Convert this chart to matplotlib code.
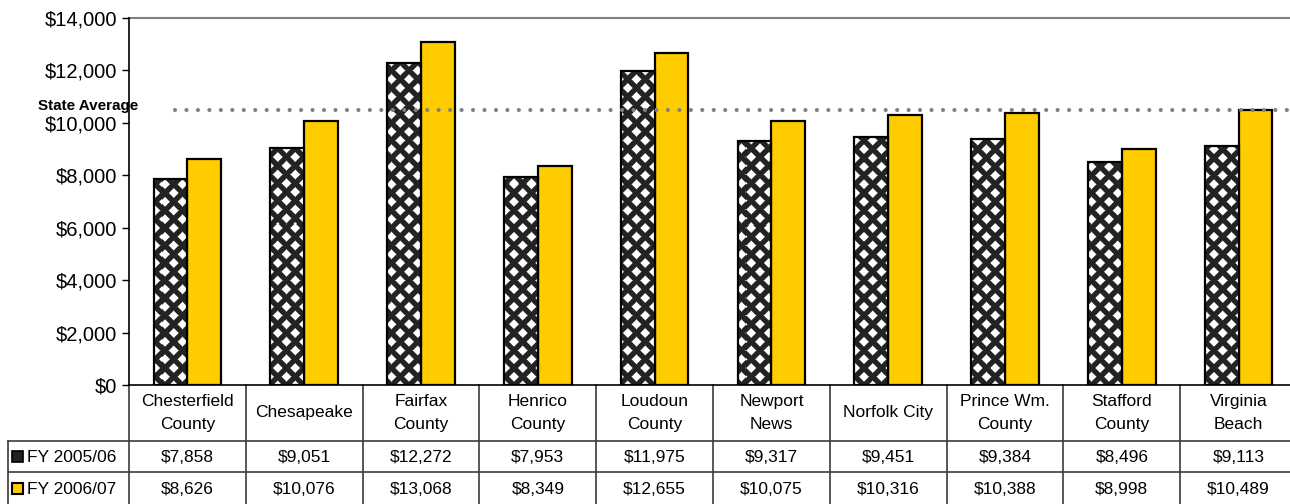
import matplotlib
matplotlib.use("Agg")
import matplotlib.pyplot as plt
import matplotlib.transforms as mtransforms
from matplotlib.patches import Rectangle
import numpy as np

plt.rcParams['font.family'] = ['Liberation Sans', 'DejaVu Sans']

# Per-pupil expenditure by division
categories = ["Chesterfield\nCounty", "Chesapeake", "Fairfax\nCounty", "Henrico\nCounty",
              "Loudoun\nCounty", "Newport\nNews", "Norfolk City", "Prince Wm.\nCounty",
              "Stafford\nCounty", "Virginia\nBeach"]
series_names = ["FY 2005/06", "FY 2006/07"]
fy2006 = [7858, 9051, 12272, 7953, 11975, 9317, 9451, 9384, 8496, 9113]
fy2007 = [8626, 10076, 13068, 8349, 12655, 10075, 10316, 10388, 8998, 10489]
state_average = 10490
yticks = [0, 2000, 4000, 6000, 8000, 10000, 12000, 14000]

W, H = 1290, 504
fig = plt.figure(figsize=(W / 100, H / 100), dpi=100)

# pixel-space overlay for the data table below the bars
ov = fig.add_axes([0, 0, 1, 1], zorder=0)
ov.set_xlim(0, W)
ov.set_ylim(H, 0)
ov.axis('off')

# plot area runs slightly past the right edge of the canvas
left, right, top, bottom = 129, 1297, 18, 385
ax = fig.add_axes([left / W, (H - bottom) / H, (right - left) / W, (bottom - top) / H], zorder=1)
ax.patch.set_alpha(0)

ax.set_xlim(-0.5, len(categories) - 0.5)
ax.set_ylim(0, 14000)

x = np.arange(len(categories))
bw = 0.29
dark_bars = ax.bar(x - bw / 2, fy2006, width=bw, facecolor='#222222', edgecolor='none', zorder=3)
ax.bar(x - bw / 2, fy2006, width=bw, fill=False, edgecolor='black', linewidth=1.6, zorder=5)
ax.bar(x + bw / 2, fy2007, width=bw, facecolor='#FFCC00', edgecolor='black',
       linewidth=1.6, zorder=3)

# diamond-checker fill texture for the first series
pw, ph = right - left, bottom - top
py, px = np.mgrid[0:ph, 0:pw].astype(float) + 0.5
period = 17.5
u = np.mod((px + py) / period, 1.0) - 0.5
v = np.mod((px - py) / period, 1.0) - 0.5
s = np.maximum(np.abs(u), np.abs(v))
white = np.clip((0.28 - s) * period * 0.7 + 0.5, 0, 1)
tone = 0.14 + (1.0 - 0.14) * white
texture = np.dstack([tone, tone, tone])
for bar in dark_bars:
    im = ax.imshow(texture, extent=(-0.5, len(categories) - 0.5, 0, 14000),
                   aspect='auto', interpolation='nearest', zorder=4)
    im.set_clip_path(bar)
ax.set_xlim(-0.5, len(categories) - 0.5)
ax.set_ylim(0, 14000)

ax.set_yticks(yticks)
ax.set_yticklabels([f"${v:,}" for v in yticks], fontsize=14.5)
ax.set_xticks([])
ax.tick_params(axis='y', length=5, width=1, pad=3.5, direction='out')
ax.axhline(14000, color='#808080', lw=1.5, zorder=1, clip_on=False)
for sp in ['top', 'right']:
    ax.spines[sp].set_visible(False)
ax.spines['left'].set_linewidth(1.2)
ax.spines['bottom'].set_linewidth(1.2)

# state average reference line
ax.axhline(state_average, xmin=0.039, xmax=1.0, color='#808080', lw=3.0,
           linestyle=(0, (0.001, 2.75)), dash_capstyle='round', zorder=6)
fig.text(38 / W, (H - 110) / H, "State Average", fontsize=11, fontweight='bold',
         ha='left', va='baseline', zorder=7)

# table grid and text
tr = mtransforms.blended_transform_factory(ax.transData, ov.transData)
line_c = '#3a3a3a'
ov.plot([8, W], [441, 441], color=line_c, lw=1.2)
ov.plot([8, W], [472, 472], color=line_c, lw=1.2)
ov.plot([8, 8], [441, H], color=line_c, lw=1.2)
for k in range(len(categories) + 1):
    ov.plot([k - 0.5, k - 0.5], [bottom, H], color=line_c, lw=1.2, transform=tr)

for i, cat in enumerate(categories):
    ov.text(i, 413, cat, ha='center', va='center', fontsize=12.5, linespacing=1.65, transform=tr)
    ov.text(i, 457, f"${fy2006[i]:,}", ha='center', va='center', fontsize=12.5, transform=tr)
    ov.text(i, 489, f"${fy2007[i]:,}", ha='center', va='center', fontsize=12.5, transform=tr)

# legend keys in the row headers
ov.add_patch(Rectangle((12, 451), 11, 11, facecolor='#222222', edgecolor='black', lw=1.2))
ov.add_patch(Rectangle((12, 483), 11, 11, facecolor='#FFCC00', edgecolor='black', lw=1.5))
ov.text(27, 457, series_names[0], ha='left', va='center', fontsize=12.5)
ov.text(27, 489, series_names[1], ha='left', va='center', fontsize=12.5)

fig.savefig("out.png", dpi=100)
